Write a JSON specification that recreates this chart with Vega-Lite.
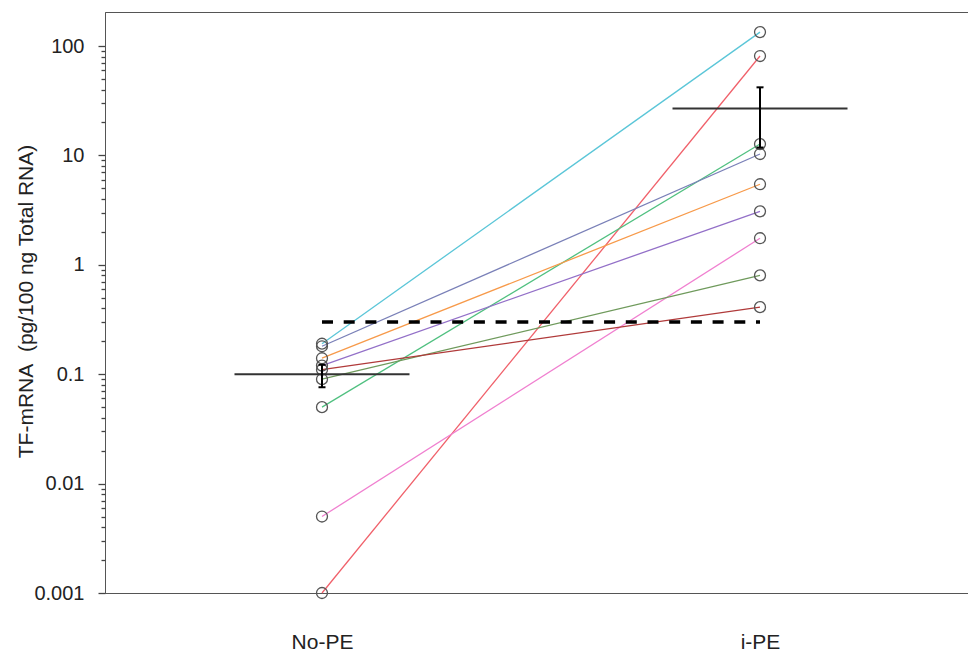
{
  "$schema": "https://vega.github.io/schema/vega-lite/v6.json",
  "autosize": {"type": "none"},
  "padding": {"left": 105, "top": 12, "right": 0, "bottom": 58},
  "width": 872,
  "height": 581,
  "background": "white",
  "config": {
    "view": {"stroke": "#555", "strokeWidth": 1},
    "font": "Liberation Sans"
  },
  "resolve": {"scale": {"y": "shared"}, "axis": {"y": "independent"}},
  "datasets": {
    "subjects": [
      {"subject": "s1", "group": "No-PE", "value": 0.19},
      {"subject": "s1", "group": "i-PE", "value": 134},
      {"subject": "s2", "group": "No-PE", "value": 0.001},
      {"subject": "s2", "group": "i-PE", "value": 81},
      {"subject": "s3", "group": "No-PE", "value": 0.05},
      {"subject": "s3", "group": "i-PE", "value": 12.7},
      {"subject": "s4", "group": "No-PE", "value": 0.18},
      {"subject": "s4", "group": "i-PE", "value": 10.3},
      {"subject": "s5", "group": "No-PE", "value": 0.14},
      {"subject": "s5", "group": "i-PE", "value": 5.45},
      {"subject": "s6", "group": "No-PE", "value": 0.12},
      {"subject": "s6", "group": "i-PE", "value": 3.08},
      {"subject": "s7", "group": "No-PE", "value": 0.005},
      {"subject": "s7", "group": "i-PE", "value": 1.75},
      {"subject": "s8", "group": "No-PE", "value": 0.09},
      {"subject": "s8", "group": "i-PE", "value": 0.8},
      {"subject": "s9", "group": "No-PE", "value": 0.11},
      {"subject": "s9", "group": "i-PE", "value": 0.41}
    ],
    "summary": [
      {"group": "No-PE", "mean": 0.1, "lo": 0.076, "hi": 0.122},
      {"group": "i-PE", "mean": 26.9, "lo": 11.8, "hi": 41.9}
    ],
    "threshold": [
      {"group": "No-PE", "value": 0.3},
      {"group": "i-PE", "value": 0.3}
    ]
  },
  "layer": [
    {
      "data": {"name": "subjects"},
      "mark": {"type": "line", "strokeWidth": 1.3},
      "encoding": {
        "x": {
          "field": "group", "type": "nominal", "sort": ["No-PE", "i-PE"],
          "scale": {"type": "point", "domain": ["No-PE", "i-PE"], "padding": 0.4954},
          "axis": {"title": null, "ticks": false, "tickSize": 0, "labelAngle": 0, "labelFontSize": 21, "labelColor": "#222", "labelPadding": 38, "domainColor": "#555", "labelFont": "Liberation Sans"}
        },
        "y": {
          "field": "value", "type": "quantitative", "title": "TF-mRNA\u00a0 (pg/100 ng Total RNA)",
          "scale": {"type": "log", "domain": [0.001, 204.6], "nice": false},
          "axis": {
            "orient": "left",
            "values": [0.001, 0.01, 0.1, 1, 10, 100],
            "labelExpr": "format(datum.value, '~g')",
            "tickSize": 7,
            "tickWidth": 1.3,
            "tickColor": "#444",
            "domainColor": "#555",
            "grid": false,
            "labelOverlap": false,
            "labelBound": false,
            "labelFontSize": 20,
            "labelColor": "#222",
            "labelPadding": 14,
            "labelFont": "Liberation Sans",
            "titleFont": "Liberation Sans",
            "titleFontSize": 21,
            "titleFontWeight": "normal",
            "titleColor": "#222",
            "titleAngle": -90,
            "titleAlign": "center",
            "titleBaseline": "middle",
            "titleX": -79,
            "titleY": 289
          }
        },
        "color": {
          "field": "subject", "type": "nominal", "legend": null,
          "scale": {
            "domain": ["s1","s2","s3","s4","s5","s6","s7","s8","s9"],
            "range": ["#5bc6d8","#f0606a","#50c080","#7a80b8","#f79a4a","#9370c8","#f080d0","#6f9a5c","#b03a3a"]
          }
        },
        "detail": {"field": "subject"}
      }
    },
    {
      "data": {"name": "threshold"},
      "mark": {"type": "line", "color": "black", "strokeWidth": 3.5, "strokeDash": [11, 10.7]},
      "encoding": {
        "x": {"field": "group", "type": "nominal", "sort": ["No-PE", "i-PE"]},
        "y": {
          "field": "value", "type": "quantitative",
          "axis": {
            "orient": "left",
            "offset": 0,
            "title": null,
            "values": [0.002,0.003,0.004,0.005,0.006,0.007,0.008,0.009,0.02,0.03,0.04,0.05,0.06,0.07,0.08,0.09,0.2,0.3,0.4,0.5,0.6,0.7,0.8,0.9,2,3,4,5,6,7,8,9,20,30,40,50,60,70,80,90],
            "labels": false,
            "domain": false,
            "grid": false,
            "tickSize": 4,
            "tickWidth": 1.3,
            "tickColor": "#444"
          }
        }
      }
    },
    {
      "data": {"name": "subjects"},
      "mark": {"type": "point", "shape": "circle", "filled": false, "stroke": "#555", "strokeWidth": 1.3, "size": 120, "opacity": 1},
      "encoding": {
        "x": {"field": "group", "type": "nominal", "sort": ["No-PE", "i-PE"]},
        "y": {"field": "value", "type": "quantitative", "axis": null}
      }
    },
    {
      "data": {"name": "summary"},
      "mark": {"type": "tick", "orient": "horizontal", "size": 175, "thickness": 2, "color": "#333", "opacity": 1},
      "encoding": {
        "x": {"field": "group", "type": "nominal", "sort": ["No-PE", "i-PE"]},
        "y": {"field": "mean", "type": "quantitative", "axis": null}
      }
    },
    {
      "data": {"name": "summary"},
      "mark": {"type": "rule", "color": "black", "strokeWidth": 2},
      "encoding": {
        "x": {"field": "group", "type": "nominal", "sort": ["No-PE", "i-PE"]},
        "y": {"field": "lo", "type": "quantitative", "axis": null},
        "y2": {"field": "hi"}
      }
    },
    {
      "data": {"name": "summary"},
      "mark": {"type": "tick", "orient": "horizontal", "size": 7, "thickness": 2, "color": "black", "opacity": 1},
      "encoding": {
        "x": {"field": "group", "type": "nominal", "sort": ["No-PE", "i-PE"]},
        "y": {"field": "lo", "type": "quantitative", "axis": null}
      }
    },
    {
      "data": {"name": "summary"},
      "mark": {"type": "tick", "orient": "horizontal", "size": 7, "thickness": 2, "color": "black", "opacity": 1},
      "encoding": {
        "x": {"field": "group", "type": "nominal", "sort": ["No-PE", "i-PE"]},
        "y": {"field": "hi", "type": "quantitative", "axis": null}
      }
    }
  ]
}
